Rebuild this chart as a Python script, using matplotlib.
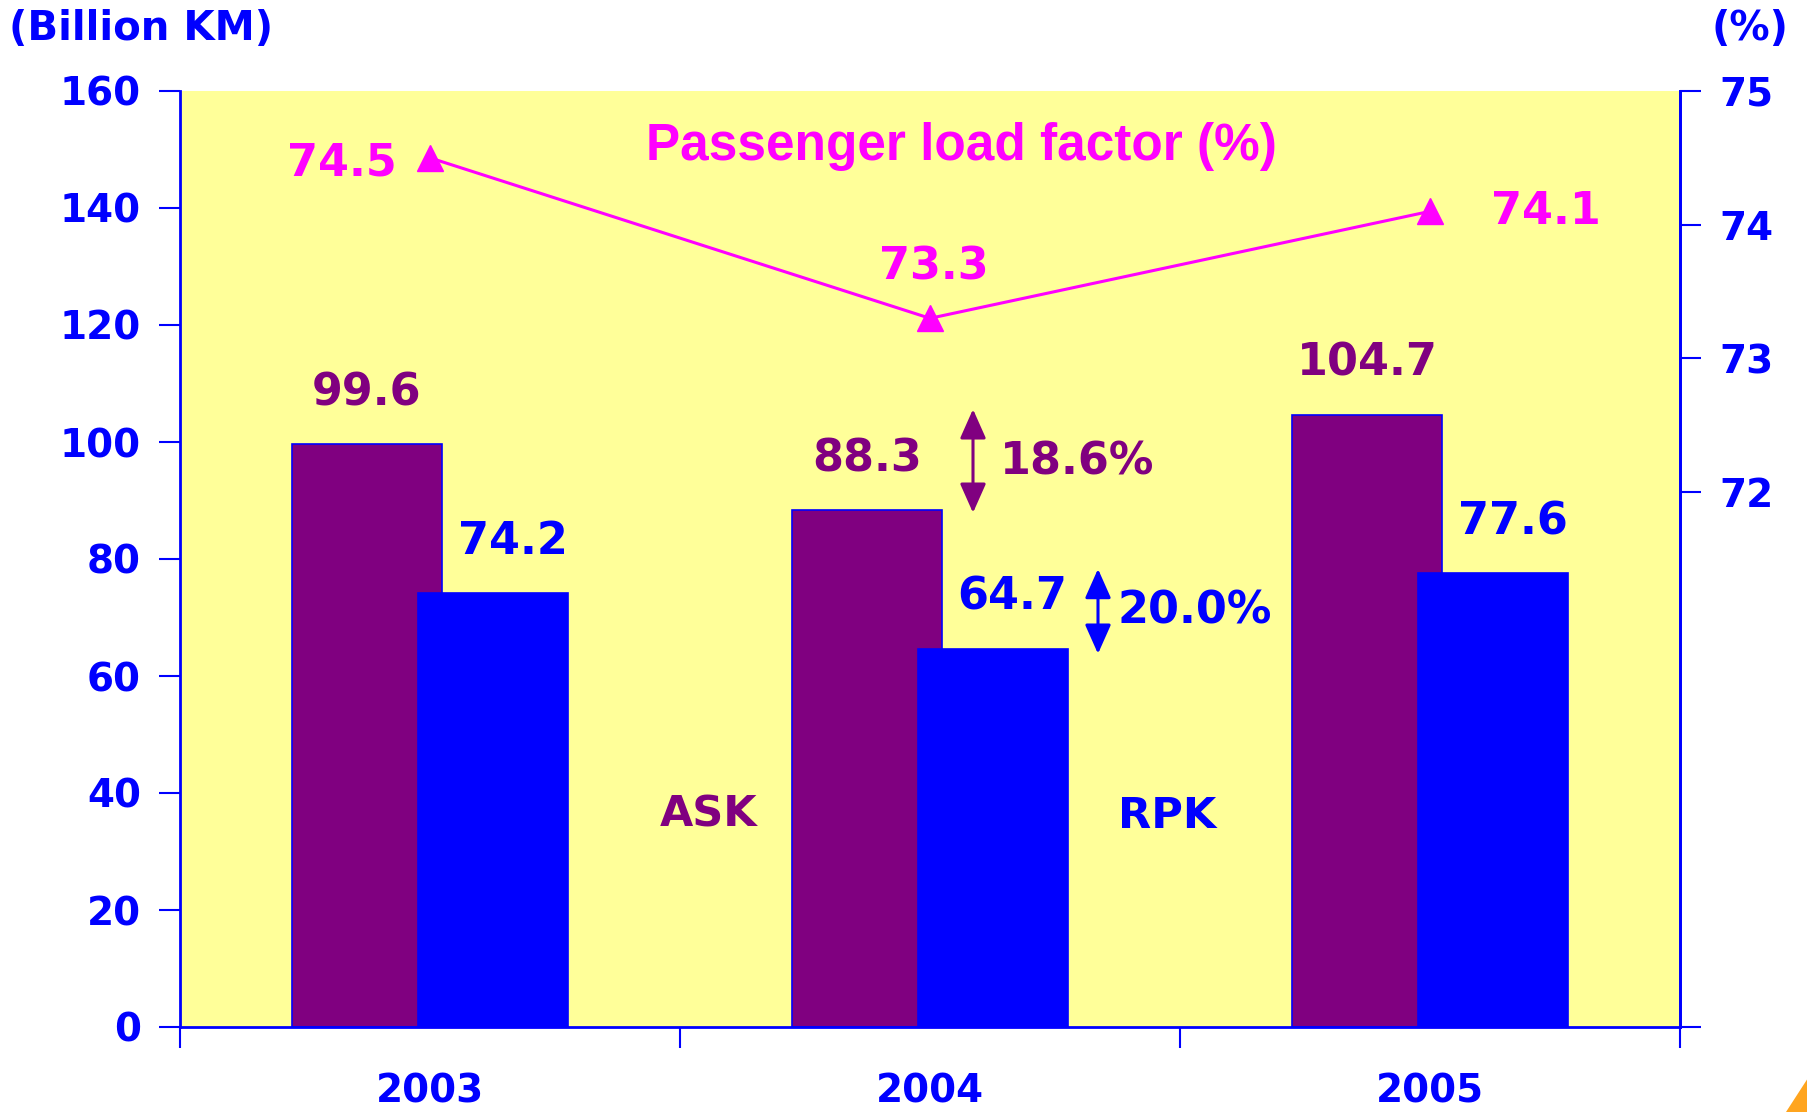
import numpy as np
import matplotlib
matplotlib.use('Agg')
from matplotlib import pyplot as plt
from matplotlib.patches import Polygon

# data
years = ['2003', '2004', '2005']
ask = [99.6, 88.3, 104.7]
rpk = [74.2, 64.7, 77.6]
load_factor = [74.5, 73.3, 74.1]
ask_growth = '18.6%'
rpk_growth = '20.0%'

PURPLE = '#800080'
BLUE = '#0000FF'
MAGENTA = '#FF00FF'
YELLOW = '#FFFF99'

plt.rcParams['font.family'] = ['DejaVu Sans']
plt.rcParams['font.weight'] = 'bold'

fig = plt.figure(figsize=(18.08, 11.12), dpi=100)
ax = fig.add_axes([180 / 1808, 85 / 1112, 1500 / 1808, 936 / 1112])
ax.set_facecolor(YELLOW)

x = np.arange(len(years))
w = 0.3
off = 0.126
ax.bar(x - off, ask, w, color=PURPLE, edgecolor=BLUE, linewidth=1.2, zorder=2)
ax.bar(x + off, rpk, w, color=BLUE, edgecolor=BLUE, linewidth=1.2, zorder=3)

ax.set_xlim(-0.5, 2.5)
ax.set_ylim(0, 160)
ax.set_yticks(range(0, 161, 20))
ax.set_xticks(x)
ax.set_xticklabels(years)
ax.set_xticks([-0.5, 0.5, 1.5, 2.5], minor=True)
ax.tick_params(axis='x', which='major', length=0, pad=33, labelsize=28, labelcolor=BLUE)
ax.tick_params(axis='x', which='minor', length=15, width=1.5, color=BLUE)
ax.tick_params(axis='y', length=15, width=1.5, color=BLUE, pad=13, labelsize=28, labelcolor=BLUE)
for lbl in ax.get_xticklabels() + ax.get_yticklabels():
    lbl.set_fontweight('bold')

for s in ['left', 'bottom', 'right']:
    ax.spines[s].set_color(BLUE)
    ax.spines[s].set_linewidth(2)
ax.spines['top'].set_visible(False)

# bar labels
for i in range(len(years)):
    ax.annotate(f'{ask[i]}', (x[i] - off, ask[i]), xytext=(0, 37), textcoords='offset points',
                ha='center', va='center', fontsize=32, color=PURPLE, fontweight='bold', zorder=5)
    ax.annotate(f'{rpk[i]}', (x[i] + off, rpk[i]), xytext=(14, 37), textcoords='offset points',
                ha='center', va='center', fontsize=32, color=BLUE, fontweight='bold', zorder=5)

# growth arrows 2004 -> 2005
arrow_style = '<|-|>,head_length=0.9,head_width=0.4'
ax.annotate('', xy=(1.086, ask[2] + 0.9), xytext=(1.086, ask[1] - 0.4),
            arrowprops=dict(arrowstyle=arrow_style, color=PURPLE, lw=2.2, mutation_scale=20,
                            shrinkA=0, shrinkB=0), zorder=5)
ax.text(1.14, (ask[1] + ask[2]) / 2, ask_growth, ha='left', va='center', fontsize=32,
        color=PURPLE, fontweight='bold', zorder=5)
ax.annotate('', xy=(1.336, rpk[2] + 0.7), xytext=(1.336, rpk[1] - 0.9),
            arrowprops=dict(arrowstyle=arrow_style, color=BLUE, lw=2.2, mutation_scale=20,
                            shrinkA=0, shrinkB=0), zorder=5)
ax.text(1.376, (rpk[1] + rpk[2]) / 2, rpk_growth, ha='left', va='center', fontsize=32,
        color=BLUE, fontweight='bold', zorder=5)

ax.text(0.558, 36.4, 'ASK', ha='center', va='center', fontsize=31, color=PURPLE, fontweight='bold')
ax.text(1.474, 36.0, 'RPK', ha='center', va='center', fontsize=31, color=BLUE, fontweight='bold')

# load factor on right axis
ax2 = ax.twinx()
ax2.set_ylim(68, 75)
ax2.set_yticks([68, 72, 73, 74, 75])
ax2.set_yticklabels(['', '72', '73', '74', '75'])
ax2.tick_params(axis='y', length=15, width=1.5, color=BLUE, pad=13, labelsize=28, labelcolor=BLUE)
for lbl in ax2.get_yticklabels():
    lbl.set_fontweight('bold')
for s in ['top', 'left', 'bottom']:
    ax2.spines[s].set_visible(False)
ax2.spines['right'].set_color(BLUE)
ax2.spines['right'].set_linewidth(2)

ax2.plot(x, load_factor, color=MAGENTA, lw=2.2, marker='^', markersize=19, zorder=4)
lf_offsets = [(-24, -4, 'right'), (3, 37, 'center'), (44, 0, 'left')]
for i, (dx, dy, ha) in enumerate(lf_offsets):
    ax2.annotate(f'{load_factor[i]}', (x[i], load_factor[i]), xytext=(dx, dy), textcoords='offset points',
                 ha=ha, va='center', fontsize=32, color=MAGENTA, fontweight='bold')

ax2.text(0.521, 0.941, 'Passenger load factor (%)', transform=ax2.transAxes, ha='center', va='center',
         fontsize=37, color=MAGENTA, fontweight='bold', family=['Liberation Sans', 'DejaVu Sans'])

# axis unit titles
fig.text(141 / 1808, 1 - 29 / 1112, '(Billion KM)', ha='center', va='center', fontsize=29,
         color=BLUE, fontweight='bold')
fig.text(1750 / 1808, 1 - 29 / 1112, '(%)', ha='center', va='center', fontsize=29,
         color=BLUE, fontweight='bold')

# bit of logo in the corner
logo = Polygon([[1786 / 1808, 0], [1808 / 1808, 34 / 1112], [1, 0]], closed=True,
               transform=fig.transFigure, facecolor='#FFA51F', edgecolor='none')
fig.patches.append(logo)

fig.savefig('out.png', dpi=100)
